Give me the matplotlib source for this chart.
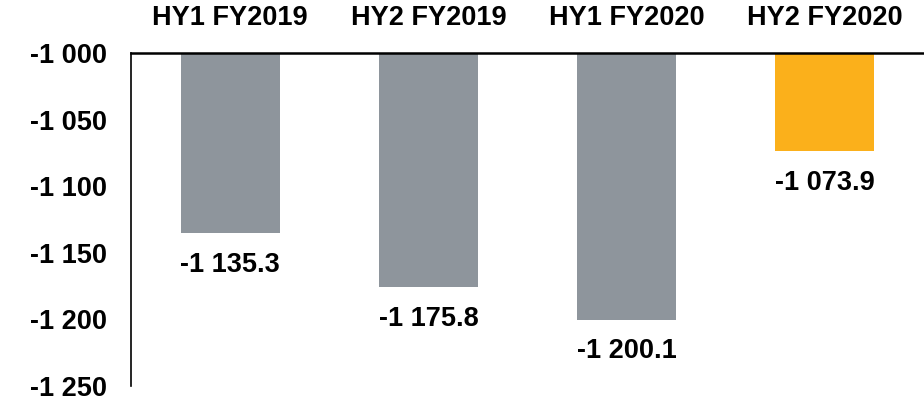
import matplotlib.pyplot as plt

plt.rcParams['font.family'] = ['Liberation Sans', 'DejaVu Sans']
plt.rcParams['font.weight'] = 'bold'

categories = ['HY1 FY2019', 'HY2 FY2019', 'HY1 FY2020', 'HY2 FY2020']
values = [-1135.3, -1175.8, -1200.1, -1073.9]
colors = ['#8E959C', '#8E959C', '#8E959C', '#FBB01B']
yticks = [-1000, -1050, -1100, -1150, -1200, -1250]


def fmt(v, dec=0):
    s = f"{abs(v):,.{dec}f}".replace(',', ' ')
    return ('-' if v < 0 else '') + s


fig = plt.figure(figsize=(9.24, 4.03), dpi=100)
ax = fig.add_axes([0.1418, 0.042, 0.8582, 0.8265])

base = -1000
x = range(len(categories))
heights = [v - base for v in values]
ax.bar(x, heights, bottom=base, width=0.5, color=colors)

for i, v in enumerate(values):
    ax.annotate(fmt(v, 1), (i, v), xytext=(0, -13.5), textcoords='offset points',
                ha='center', va='top', fontsize=19.5, fontweight='bold')

ax.set_ylim(-1250, -1000)
ax.set_xlim(-0.5, 3.5)
ax.set_yticks(yticks)
ax.set_yticklabels([fmt(t) for t in yticks], fontsize=19.5, fontweight='bold')
ax.xaxis.tick_top()
ax.set_xticks(list(x))
ax.set_xticklabels(categories, fontsize=19.5, fontweight='bold')
ax.tick_params(length=0)
ax.tick_params(axis='y', pad=17.5)
ax.tick_params(axis='x', pad=15.5)

for s in ['right', 'bottom']:
    ax.spines[s].set_visible(False)
ax.spines['top'].set_linewidth(1.8)
ax.spines['left'].set_linewidth(1.2)

fig.savefig('out.png', dpi=100)
